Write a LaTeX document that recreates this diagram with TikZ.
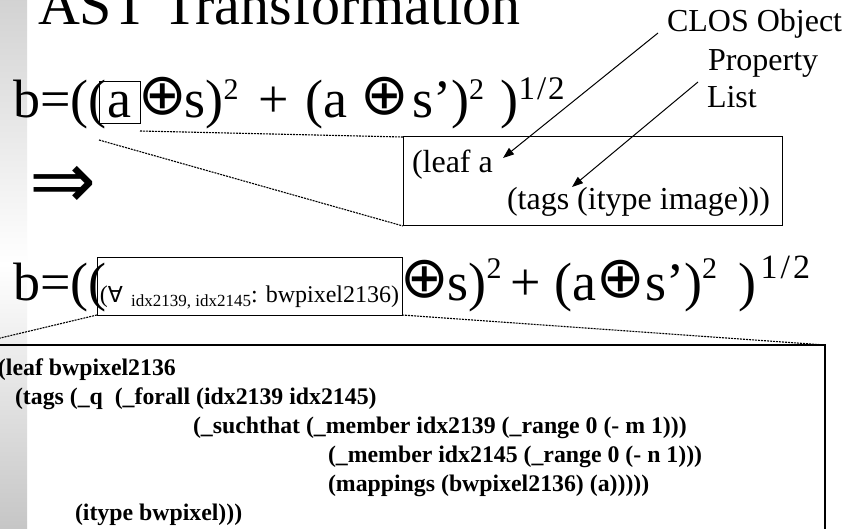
\documentclass[tikz,border=0pt]{standalone}
\usepackage{fontspec}
\setmainfont{Liberation Serif}
\newfontfamily\symf{DejaVu Sans}
\usetikzlibrary{arrows.meta}
\newcommand{\fs}[1]{\fontsize{#1}{#1}\selectfont}
\newcommand{\opl}{\raisebox{3pt}{\symf\fs{58}⊕}}
\newcommand{\sps}[3][30]{\raisebox{#2}{\fs{#1}#3}}
\begin{document}
\begin{tikzpicture}[x=1pt,y=-1pt,
  every node/.style={inner sep=0pt, outer sep=0pt},
  txt/.style={anchor=base west},
  thinbox/.style={draw, line width=1pt},
  dotln/.style={line width=1.1pt, dash pattern=on 2pt off 1pt},
  callout/.style={line width=1pt, -{Triangle[length=11pt,width=8pt]}},
  code/.style={anchor=base west, font=\fs{23.8}\bfseries}]
\clip (0,0) rectangle (848,529);
\useasboundingbox (0,0) rectangle (848,529);
\fill[white] (0,0) rectangle (848,529);
\shade[top color=gray!35, bottom color=gray!45, middle color=white] (0,0) rectangle (27,529);

% title
\node[txt, font=\fs{58}] (title) at (38,25) {AST Transformation};

% equation 1
\node[txt, font=\fs{54}] (e1a) at (13,118) {b=((};
\node[thinbox, anchor=base, minimum width=41pt, text height=36pt, text depth=6pt, font=\fs{54}] (abox) at (119.5,118) {a};
\node[txt, font=\fs{54}] (e1b) at (143,118) {\hspace{-5pt}\opl\hspace{-2pt}s)\sps{18pt}{2}\hspace{20pt}+\hspace{16pt}(a \opl\hspace{3pt}s’)\sps{18pt}{2}\ \kern3pt)\sps[33]{18pt}{1\kern2pt/\kern2pt2}};

% implication arrow
\node[font=\fs{80}] (impl) at (63,187) {\symf ⇒};

% labels
\node[txt, font=\fs{32}] (clos) at (667,32) {CLOS Object};
\node[txt, font=\fs{32}] (prop) at (708,71) {Property};
\node[txt, font=\fs{32}] (list) at (707,108) {List};

% leaf a box
\node[thinbox, minimum width=379pt, minimum height=89pt] (leafbox) at (592.5,181.5) {};
\node[txt, font=\fs{32}] (leafa) at (412,173) {(leaf a};
\node[txt, font=\fs{32}] (tagsa) at (507,210) {(tags (itype image)))};

\coordinate (c1s) at (658,33);
\coordinate (c1e) at (503,158);
\coordinate (c2s) at (698,82);
\coordinate (c2e) at (572,187);
\draw[callout] (c1s) -- (c1e);
\draw[callout] (c2s) -- (c2e);

% equation 2
\node[txt, font=\fs{54}] (e2a) at (13,300) {b=((};
\node[thinbox, anchor=base, minimum width=305pt, text height=44pt, text depth=13pt, font=\fs{24}] (fbox) at (249.5,302)
  {({\symf\fs{22}∀}\,\raisebox{-4pt}{\fs{17} idx2139, idx2145}: bwpixel2136)};
\node[txt, font=\fs{54}] (e2b) at (407,300) {\hspace{-7pt}\opl\hspace{-1pt}s)\sps{22pt}{2}\hspace{9pt}+ (a\opl\hspace{0pt}s’)\sps{22pt}{2}\ \kern8pt)\kern4pt\sps[34]{22pt}{1\kern3pt/\kern3pt2}};

% big box
\node[draw, line width=2pt, minimum width=854pt, minimum height=230pt] (bigbox) at (398,460) {};

\node[code] (l1) at (-2,375) {(leaf bwpixel2136};
\node[code] (l2) at (15,404) {(tags (\_q\ \ (\_forall (idx2139 idx2145)};
\node[code] (l3) at (193,433) {(\_suchthat (\_member idx2139 (\_range 0 (- m 1)))};
\node[code] (l4) at (328,462) {(\_member idx2145 (\_range 0 (- n 1)))};
\node[code] (l5) at (328,491) {(mappings (bwpixel2136) (a)))))};
\node[code] (l6) at (75,520) {(itype bwpixel)))};

% zoom lines
\draw[dotln] ([yshift=-7pt]abox.south east) -- (leafbox.north west);
\draw[dotln] ([yshift=-16pt]abox.south west) -- (leafbox.south west);
\draw[dotln] (fbox.south west) -- (bigbox.north west);
\draw[dotln] (fbox.south east) -- (bigbox.north east);
\end{tikzpicture}
\end{document}
